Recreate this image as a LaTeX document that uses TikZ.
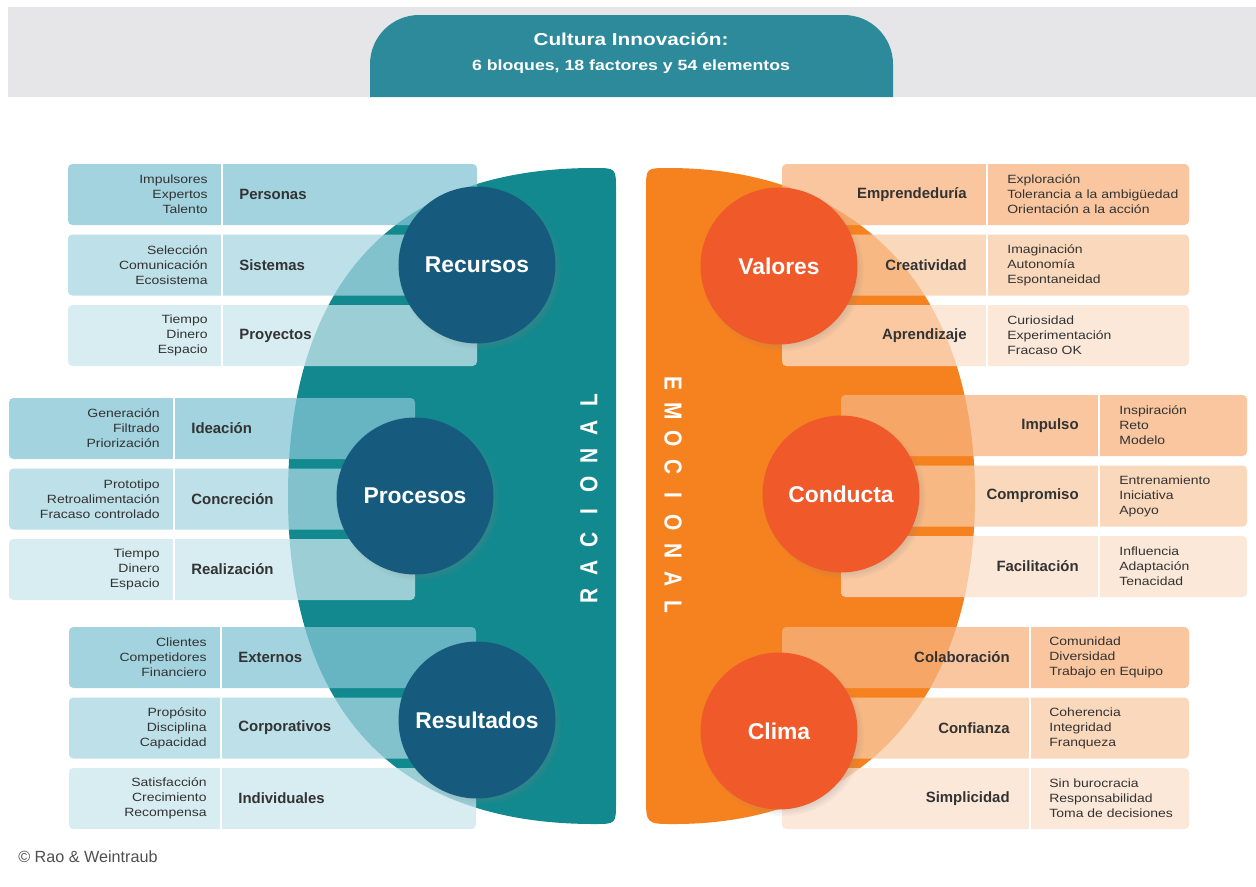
\documentclass[tikz,border=0pt]{standalone}
\usepackage{fontspec}
\setmainfont{Liberation Sans}
\newfontfamily\elemfont[FakeStretch=1.17]{Liberation Sans}
\newfontfamily\headfont[FakeStretch=1.2]{Liberation Sans}
\newfontfamily\axisfont[FakeStretch=0.85]{Liberation Sans}
\usepackage{xcolor}
\usetikzlibrary{shadows,fadings}

\definecolor{bandgray}{HTML}{E6E6E9}
\definecolor{headteal}{HTML}{2C8A9B}
\definecolor{tealshape}{HTML}{12898E}
\definecolor{navy}{HTML}{165B7D}
\definecolor{tealrow1}{HTML}{84C5D5}
\definecolor{tealrow2}{HTML}{A7D6E2}
\definecolor{tealrow3}{HTML}{CAE7EE}
\definecolor{orangeshape}{HTML}{F6821F}
\definecolor{redorange}{HTML}{F0592A}
\definecolor{orrow1}{HTML}{F7B480}
\definecolor{orrow2}{HTML}{F9CBA5}
\definecolor{orrow3}{HTML}{FCE1CD}
\definecolor{txtdark}{HTML}{333333}
\definecolor{copygray}{HTML}{505050}

\begin{document}
\begin{tikzpicture}[x=0.02cm, y=-0.02cm,
  bloque/.style={circle, minimum size=3.14cm, inner sep=0pt, text=white,
    font=\fontsize{13}{15}\selectfont\bfseries,
    circular drop shadow={shadow xshift=.07cm, shadow yshift=-.07cm, shadow scale=1.04, opacity=.35}},
  fila/.style={rounded corners=2.5pt, fill opacity=.75},
  sep/.style={white, line width=1.2pt},
  factor/.style={font=\fontsize{8.5}{10}\selectfont\bfseries, text=txtdark, inner sep=0pt},
  elem/.style={font=\elemfont\fontsize{6.8}{8.5}\selectfont, text=txtdark, inner sep=0pt},
  eje/.style={font=\axisfont\fontsize{14}{14}\selectfont\bfseries, text=white, inner sep=0pt}]
\useasboundingbox (0,0) rectangle (1256,886);
\fill[white] (0,0) rectangle (1256,886);

% cabecera
\fill[bandgray] (8,7) rectangle (1256,97);
\fill[headteal] (370,97) [rounded corners=28] -- (370,15) -- (893,15) [sharp corners] -- (893,97) -- cycle;
\node[text=white, font=\headfont\fontsize{9.85}{11}\selectfont\bfseries] (titulo) at (631,39) {Cultura Innovación:};
\node[text=white, font=\headfont\fontsize{8.4}{10}\selectfont\bfseries] (subtitulo) at (631,67) {6 bloques, 18 factores y 54 elementos};

% mitad racional y mitad emocional
\fill[tealshape] (616,190) .. controls (616,168) .. (594,168)
  .. controls (370,168) and (288,310) .. (288,496)
  .. controls (288,682) and (370,824) .. (594,824)
  .. controls (616,824) .. (616,802) -- cycle;
\fill[orangeshape] (646,190) .. controls (646,168) .. (668,168)
  .. controls (860,168) and (975,290) .. (975,496)
  .. controls (975,702) and (860,824) .. (674,824)
  .. controls (646,824) .. (646,796) -- cycle;

% Recursos
\foreach \t/\fac/\els [count=\i] in {164/Personas/{Impulsores\\Expertos\\Talento},
    234.5/Sistemas/{Selección\\Comunicación\\Ecosistema},
    305/Proyectos/{Tiempo\\Dinero\\Espacio}}{
  \fill[fila, fill=tealrow\i] (68,\t) rectangle ++(409,61);
  \draw[sep] (222,\t) -- ++(0,61);
  \node[elem, align=right, anchor=east] (rec-e\i) at (208,\t+30.5) {\els};
  \node[factor, anchor=west] (rec-f\i) at (239,\t+30.5) {\fac};
}
% Procesos
\foreach \t/\fac/\els [count=\i] in {398/Ideación/{Generación\\Filtrado\\Priorización},
    468.5/Concreción/{Prototipo\\Retroalimentación\\Fracaso controlado},
    539/Realización/{Tiempo\\Dinero\\Espacio}}{
  \fill[fila, fill=tealrow\i] (9,\t) rectangle ++(406,61);
  \draw[sep] (174,\t) -- ++(0,61);
  \node[elem, align=right, anchor=east] (pro-e\i) at (160,\t+30.5) {\els};
  \node[factor, anchor=west] (pro-f\i) at (191,\t+30.5) {\fac};
}
% Resultados
\foreach \t/\fac/\els [count=\i] in {627/Externos/{Clientes\\Competidores\\Financiero},
    697.5/Corporativos/{Propósito\\Disciplina\\Capacidad},
    768/Individuales/{Satisfacción\\Crecimiento\\Recompensa}}{
  \fill[fila, fill=tealrow\i] (69,\t) rectangle ++(407,61);
  \draw[sep] (221,\t) -- ++(0,61);
  \node[elem, align=right, anchor=east] (res-e\i) at (207,\t+30.5) {\els};
  \node[factor, anchor=west] (res-f\i) at (238,\t+30.5) {\fac};
}
% Valores
\foreach \t/\fac/\els [count=\i] in {164/Emprendeduría/{Exploración\\Tolerancia a la ambigüedad\\Orientación a la acción},
    234.5/Creatividad/{Imaginación\\Autonomía\\Espontaneidad},
    305/Aprendizaje/{Curiosidad\\Experimentación\\Fracaso OK}}{
  \fill[fila, fill=orrow\i] (782,\t) rectangle ++(407,61);
  \draw[sep] (987,\t) -- ++(0,61);
  \node[factor, anchor=east] (val-f\i) at (967,\t+30.5) {\fac};
  \node[elem, align=left, anchor=west] (val-e\i) at (1007,\t+30.5) {\els};
}
% Conducta
\foreach \t/\fac/\els [count=\i] in {395/Impulso/{Inspiración\\Reto\\Modelo},
    465.5/Compromiso/{Entrenamiento\\Iniciativa\\Apoyo},
    536/Facilitación/{Influencia\\Adaptación\\Tenacidad}}{
  \fill[fila, fill=orrow\i] (841,\t) rectangle ++(406,61);
  \draw[sep] (1099,\t) -- ++(0,61);
  \node[factor, anchor=east] (con-f\i) at (1079,\t+30.5) {\fac};
  \node[elem, align=left, anchor=west] (con-e\i) at (1119,\t+30.5) {\els};
}
% Clima
\foreach \t/\fac/\els [count=\i] in {627/Colaboración/{Comunidad\\Diversidad\\Trabajo en Equipo},
    697.5/Confianza/{Coherencia\\Integridad\\Franqueza},
    768/Simplicidad/{Sin burocracia\\Responsabilidad\\Toma de decisiones}}{
  \fill[fila, fill=orrow\i] (782,\t) rectangle ++(407,61);
  \draw[sep] (1030,\t) -- ++(0,61);
  \node[factor, anchor=east] (cli-f\i) at (1010,\t+30.5) {\fac};
  \node[elem, align=left, anchor=west] (cli-e\i) at (1049,\t+30.5) {\els};
}

% bloques
\node[bloque, fill=navy] (recursos) at (477,265) {Recursos};
\node[bloque, fill=navy] (procesos) at (415,496) {Procesos};
\node[bloque, fill=navy] (resultados) at (477,720) {Resultados};
\node[bloque, fill=redorange] (valores) at (779,266) {Valores};
\node[bloque, fill=redorange] (conducta) at (841,494) {Conducta};
\node[bloque, fill=redorange] (clima) at (779,731) {Clima};

% ejes
\foreach \l [count=\i from 0] in {R,A,C,I,O,N,A,L}
  \node[eje, rotate=90] (rac\i) at (589,596-28*\i) {\l};
\foreach \l [count=\i from 0] in {E,M,O,C,I,O,N,A,L}
  \node[eje, rotate=-90] (emo\i) at (673,383+28*\i) {\l};

\node[anchor=west, inner sep=0pt, text=copygray, font=\fontsize{9.2}{11}\selectfont] (autores) at (18,857) {© Rao \& Weintraub};
\end{tikzpicture}
\end{document}
